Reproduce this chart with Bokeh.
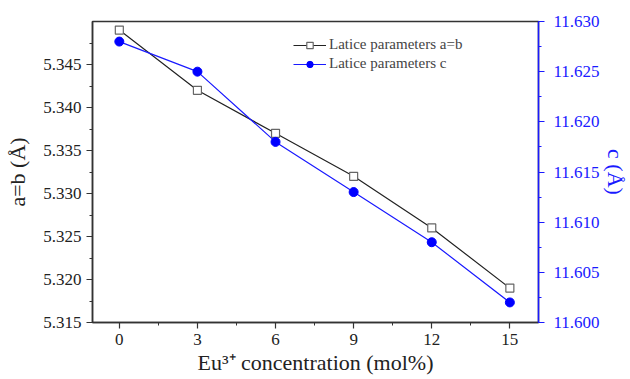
from bokeh.plotting import figure
from bokeh.models import Range1d, LinearAxis, FixedTicker, SingleIntervalTicker, PrintfTickFormatter
from bokeh.embed import file_html
from bokeh.resources import INLINE

conc = [0, 3, 6, 9, 12, 15]
a_b = [5.349, 5.342, 5.337, 5.332, 5.326, 5.319]
c_par = [11.628, 11.625, 11.618, 11.613, 11.608, 11.602]
x_ticks = [0, 3, 6, 9, 12, 15]
x_minor = [1.5, 4.5, 7.5, 10.5, 13.5]
x_title = "Eu³⁺ concentration (mol%)"
y_title = "a=b (Å)"
y2_title = "c (Å)"

FONT = "Liberation Serif"
BLUE = "#1a1aff"

p = figure(width=630, height=379, x_range=Range1d(-1.03, 16.1), y_range=Range1d(5.315, 5.350),
           output_backend="svg", toolbar_location=None,
           min_border_left=92, min_border_right=89, min_border_top=21, min_border_bottom=57)
p.extra_y_ranges = {"c": Range1d(11.600, 11.630)}
p.xgrid.visible = False
p.ygrid.visible = False
p.outline_line_color = "#333333"
p.outline_line_width = 1.5
p.background_fill_color = "white"
p.border_fill_color = "white"

xa = p.xaxis[0]
xa.ticker = FixedTicker(ticks=x_ticks, minor_ticks=x_minor)
xa.axis_label = x_title

ya = p.yaxis[0]
ya.ticker = SingleIntervalTicker(interval=0.005, num_minor_ticks=2)
ya.formatter = PrintfTickFormatter(format="%.3f")
ya.axis_label = y_title

ra = LinearAxis(y_range_name="c", axis_label=y2_title)
ra.ticker = SingleIntervalTicker(interval=0.005, num_minor_ticks=2)
ra.formatter = PrintfTickFormatter(format="%.3f")
p.add_layout(ra, "right")

for ax in [xa, ya, ra]:
    ax.major_tick_in = 0
    ax.major_tick_out = 6
    ax.minor_tick_in = 0
    ax.minor_tick_out = 3
    ax.major_label_text_font = FONT
    ax.major_label_text_font_size = "17px"
    ax.axis_label_text_font = FONT
    ax.axis_label_text_font_size = "22px"
    ax.axis_label_text_font_style = "normal"
    ax.axis_line_width = 1.5
    ax.major_tick_line_width = 1.2
    ax.axis_line_color = "#333333"
    ax.major_tick_line_color = "#333333"
    ax.minor_tick_line_color = "#333333"
    ax.major_label_text_color = "#222222"
    ax.axis_label_text_color = "#222222"
    ax.major_label_standoff = 5

xa.axis_label_standoff = 2
ya.axis_label_standoff = 10
ra.major_label_standoff = 9
ra.axis_label_standoff = 0

ra.axis_line_color = BLUE
ra.major_tick_line_color = BLUE
ra.minor_tick_line_color = BLUE
ra.major_label_text_color = BLUE
ra.axis_label_text_color = BLUE

p.line(conc, a_b, line_color="#222222", line_width=1.2, legend_label="Latice parameters a=b")
p.scatter(conc, a_b, marker="square", size=8, fill_color="white", line_color="#666666",
          line_width=1.2, legend_label="Latice parameters a=b")
p.line(conc, c_par, line_color=BLUE, line_width=1.2, y_range_name="c", legend_label="Latice parameters c")
p.scatter(conc, c_par, marker="circle", size=9, fill_color="#0000ff", line_color="#0000ff",
          y_range_name="c", legend_label="Latice parameters c")

lg = p.legend[0]
lg.location = (201, 250)
lg.border_line_color = None
lg.background_fill_alpha = 0
lg.label_text_font = FONT
lg.label_text_font_size = "15px"
lg.glyph_width = 33
lg.glyph_height = 16
lg.label_standoff = 3
lg.spacing = 2
lg.padding = 0
lg.margin = 0
lg.label_height = 16

open("out.html", "w").write(file_html(p, INLINE))
